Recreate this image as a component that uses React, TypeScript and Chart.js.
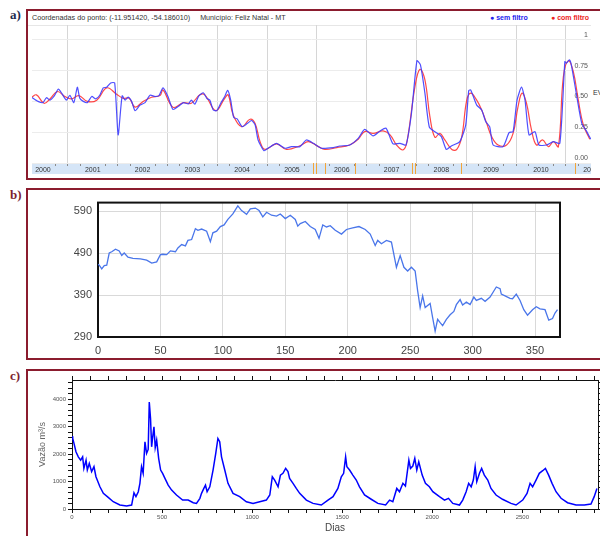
import React, { useEffect, useRef } from 'react';
import { Chart, registerables } from 'chart.js';

Chart.register(...registerables);

const FONT = '"Liberation Sans", Arial, Helvetica, sans-serif';

// ---------- Panel a : EVI time series ----------
const semFiltroYears = [
  2000.27, 2000.40, 2000.50, 2000.57, 2000.64, 2000.72, 2000.81, 2000.87, 2000.97, 2001.04,
  2001.12, 2001.19, 2001.24, 2001.31, 2001.39, 2001.48, 2001.56, 2001.64, 2001.71, 2001.78,
  2001.86, 2001.94, 2002.01, 2002.09, 2002.15, 2002.21, 2002.28, 2002.35, 2002.45, 2002.55,
  2002.65, 2002.75, 2002.83, 2002.91, 2003.01, 2003.11, 2003.22, 2003.32, 2003.42, 2003.48,
  2003.55, 2003.63, 2003.72, 2003.79, 2003.85, 2003.92, 2003.99, 2004.07, 2004.15, 2004.21,
  2004.27, 2004.33, 2004.40, 2004.50, 2004.60, 2004.69, 2004.76, 2004.82, 2004.94, 2005.02,
  2005.19, 2005.36, 2005.49, 2005.66, 2005.79, 2005.93, 2006.09, 2006.33, 2006.46, 2006.66,
  2006.83, 2006.96, 2007.13, 2007.27, 2007.39, 2007.53, 2007.67, 2007.79, 2007.90, 2008.01,
  2008.08, 2008.17, 2008.26, 2008.40, 2008.50, 2008.60, 2008.70, 2008.87, 2008.99, 2009.05,
  2009.09, 2009.21, 2009.31, 2009.39, 2009.47, 2009.54, 2009.74, 2009.86, 2009.94, 2010.02,
  2010.11, 2010.18, 2010.26, 2010.38, 2010.46, 2010.61, 2010.75, 2010.88, 2010.98, 2011.01,
  2011.07, 2011.11, 2011.22, 2011.32, 2011.42, 2011.50,
];
const semFiltroEVI = [
  0.534, 0.50, 0.49, 0.53, 0.51, 0.54, 0.60, 0.57, 0.51, 0.55,
  0.49, 0.615, 0.525, 0.50, 0.49, 0.54, 0.52, 0.55, 0.61, 0.615,
  0.65, 0.65, 0.228, 0.545, 0.51, 0.535, 0.50, 0.425, 0.47, 0.49,
  0.55, 0.54, 0.547, 0.61, 0.54, 0.435, 0.46, 0.49, 0.48, 0.51,
  0.477, 0.545, 0.57, 0.525, 0.51, 0.43, 0.425, 0.485, 0.54, 0.59,
  0.51, 0.37, 0.358, 0.295, 0.32, 0.345, 0.31, 0.187, 0.10, 0.12,
  0.16, 0.12, 0.133, 0.133, 0.187, 0.16, 0.12, 0.125, 0.138, 0.146,
  0.20, 0.273, 0.22, 0.26, 0.282, 0.155, 0.16, 0.146, 0.404, 0.83,
  0.797, 0.567, 0.29, 0.246, 0.214, 0.11, 0.138, 0.173, 0.31, 0.588,
  0.593, 0.47, 0.43, 0.336, 0.295, 0.146, 0.133, 0.246, 0.255, 0.51,
  0.615, 0.51, 0.228, 0.255, 0.146, 0.146, 0.173, 0.16, 0.823, 0.81,
  0.837, 0.797, 0.54, 0.322, 0.255, 0.193,
];
const comFiltroYears = [
  2000.27, 2000.37, 2000.52, 2000.64, 2000.79, 2000.94, 2001.07, 2001.22, 2001.39, 2001.58,
  2001.78, 2001.98, 2002.11, 2002.23, 2002.35, 2002.51, 2002.68, 2002.85, 2002.91, 2003.11,
  2003.32, 2003.48, 2003.65, 2003.75, 2003.97, 2004.15, 2004.22, 2004.32, 2004.49, 2004.66,
  2004.76, 2004.86, 2004.96, 2005.19, 2005.39, 2005.66, 2005.83, 2006.03, 2006.16, 2006.40,
  2006.66, 2006.83, 2006.96, 2007.13, 2007.33, 2007.47, 2007.60, 2007.73, 2007.81, 2007.97,
  2008.07, 2008.17, 2008.27, 2008.37, 2008.47, 2008.57, 2008.71, 2008.81, 2008.91, 2009.01,
  2009.09, 2009.21, 2009.31, 2009.41, 2009.51, 2009.64, 2009.81, 2009.94, 2010.04, 2010.12,
  2010.21, 2010.31, 2010.41, 2010.53, 2010.65, 2010.75, 2010.85, 2010.95, 2011.05, 2011.15,
  2011.25, 2011.35, 2011.48,
];
const comFiltroEVI = [
  0.534, 0.553, 0.485, 0.52, 0.58, 0.54, 0.52, 0.547, 0.50, 0.51,
  0.61, 0.558, 0.525, 0.525, 0.453, 0.50, 0.534, 0.547, 0.593, 0.453,
  0.49, 0.485, 0.553, 0.553, 0.425, 0.525, 0.553, 0.39, 0.295, 0.355,
  0.32, 0.173, 0.11, 0.155, 0.11, 0.14, 0.173, 0.133, 0.11, 0.125,
  0.146, 0.193, 0.255, 0.24, 0.26, 0.228, 0.146, 0.106, 0.173, 0.62,
  0.76, 0.675, 0.376, 0.209, 0.24, 0.187, 0.11, 0.11, 0.214, 0.51,
  0.567, 0.51, 0.43, 0.322, 0.214, 0.146, 0.146, 0.24, 0.458, 0.567,
  0.485, 0.268, 0.146, 0.187, 0.133, 0.173, 0.133, 0.70, 0.83, 0.742,
  0.51, 0.31, 0.193,
];
const yearLabels = ['2000', '2001', '2002', '2003', '2004', '2005', '2006', '2007', '2008', '2009', '2010', '2011'];
const eviTicks = [0, 0.25, 0.5, 0.75, 1];
const markerYears = [2005.92, 2005.98, 2006.16, 2006.76, 2007.91, 2007.97, 2008.89, 2011.18];

// ---------- Panel b ----------
const bDays = [
  0, 1, 3, 5, 7, 9, 11, 14, 17, 19, 21, 24, 28, 34, 39, 43, 47, 50, 52, 55,
  58, 62, 64, 67, 70, 72, 75, 78, 80, 83, 87, 90, 92, 95, 98, 101, 104, 108, 112, 115,
  119, 122, 126, 129, 132, 135, 139, 143, 146, 150, 154, 158, 160, 162, 166, 170, 174, 177, 180, 183,
  186, 190, 195, 199, 204, 209, 214, 218, 222, 224, 227, 231, 235, 239, 242, 245, 248, 251, 254, 256,
  258, 260, 262, 266, 268, 270, 272, 274, 276, 279, 282, 285, 287, 290, 292, 295, 298, 301, 303, 307,
  310, 314, 319, 322, 323, 326, 330, 332, 335, 338, 341, 344, 348, 351, 354, 358, 361, 364, 366, 368,
];
const bValues = [
  463, 461, 452, 460, 461, 490, 493, 499, 495, 484, 490, 480, 477, 476, 473, 466, 469, 486, 487, 486,
  495, 493, 502, 510, 507, 520, 522, 548, 544, 547, 542, 517, 538, 542, 553, 557, 570, 583, 602, 591,
  582, 595, 597, 591, 576, 587, 580, 578, 583, 572, 580, 570, 554, 560, 565, 553, 546, 525, 557, 552,
  555, 544, 535, 546, 550, 553, 546, 535, 508, 520, 512, 520, 516, 456, 484, 456, 447, 456, 447, 400,
  360, 388, 360, 370, 336, 304, 332, 324, 317, 332, 343, 351, 367, 379, 366, 373, 367, 385, 377, 382,
  375, 385, 409, 405, 392, 388, 382, 381, 392, 377, 355, 342, 355, 362, 357, 355, 330, 334, 347, 355,
];
const bXTicks = [0, 50, 100, 150, 200, 250, 300, 350];
const bYTicks = [290, 390, 490, 590];

// ---------- Panel c ----------
const cDays = [
  0, 4, 11, 22, 35, 48, 59, 66, 78, 85, 96, 109, 122, 133, 155, 174, 201, 229, 266, 303,
  331, 344, 355, 368, 377, 386, 395, 405, 414, 423, 429, 436, 442, 447, 455, 462, 470, 481, 492, 503,
  516, 534, 553, 580, 614, 645, 673, 691, 710, 719, 732, 741, 750, 765, 783, 798, 810, 820, 830, 848,
  866, 894, 931, 968, 1005, 1042, 1079, 1098, 1112, 1125, 1144, 1157, 1171, 1186, 1199, 1208, 1227, 1245, 1264, 1301,
  1338, 1384, 1421, 1449, 1476, 1495, 1508, 1519, 1526, 1541, 1559, 1578, 1596, 1624, 1661, 1698, 1741, 1763, 1781, 1803,
  1818, 1837, 1851, 1870, 1879, 1892, 1903, 1914, 1925, 1944, 1962, 1984, 2003, 2040, 2068, 2090, 2114, 2151, 2169, 2188,
  2202, 2216, 2228, 2238, 2247, 2262, 2274, 2289, 2308, 2326, 2354, 2390, 2437, 2465, 2502, 2526, 2543, 2557, 2576, 2594,
  2613, 2628, 2646, 2665, 2687, 2715, 2751, 2798, 2844, 2881, 2899, 2914,
];
const cFlow = [
  2650, 2570, 2390, 2085, 1900, 1780, 1900, 1480, 1780, 1420, 1660, 1360, 1540, 1175, 810, 570, 425, 265, 145, 110,
  145, 590, 450, 630, 935, 1540, 1300, 2450, 2025, 2170, 3900, 3300, 2265, 2570, 2995, 2240, 2510, 1845, 1420, 1300,
  1115, 870, 690, 510, 325, 325, 230, 205, 390, 570, 750, 870, 630, 810, 1420, 2025, 2570, 2450, 1900, 1420,
  935, 570, 450, 265, 205, 265, 325, 510, 1175, 1055, 810, 1235, 1300, 1480, 1360, 1115, 935, 750, 570, 325,
  205, 145, 325, 450, 750, 1175, 1300, 1900, 1540, 1420, 1235, 1055, 810, 510, 355, 205, 145, 325, 265, 750,
  630, 935, 835, 1780, 1480, 1565, 1845, 1420, 1720, 1235, 935, 810, 630, 450, 325, 390, 205, 145, 325, 630,
  935, 810, 1055, 1540, 995, 1300, 1480, 1235, 1055, 750, 510, 355, 205, 145, 325, 570, 935, 810, 1055, 1300,
  1395, 1480, 1235, 935, 630, 390, 230, 145, 145, 180, 450, 750,
];

const BORDER = '#8b1c2e';
const A_MIN = 2000.28;
const A_MAX = 2011.505;

const quarterTicks: number[] = [];
yearLabels.forEach((l) => {
  const y = Number(l);
  [0, 0.25, 0.5, 0.75].forEach((q) => {
    const v = y + q;
    if (v >= A_MIN && v <= A_MAX) quarterTicks.push(v);
  });
});

const markerPlugin = {
  id: 'markers',
  afterDraw(chart: any) {
    const xs = chart.scales.x;
    const ctx = chart.ctx;
    ctx.save();
    ctx.strokeStyle = '#f2a53a';
    ctx.lineWidth = 1;
    markerYears.forEach((v) => {
      const px = Math.round(xs.getPixelForValue(v)) + 0.5;
      ctx.beginPath();
      ctx.moveTo(px, xs.top);
      ctx.lineTo(px, xs.top + 11);
      ctx.stroke();
    });
    ctx.restore();
  },
};

const framePlugin = {
  id: 'frame',
  beforeDatasetsDraw(chart: any) {
    const { ctx, chartArea } = chart;
    ctx.save();
    ctx.strokeStyle = '#111';
    ctx.lineWidth = 2;
    ctx.strokeRect(chartArea.left, chartArea.top, chartArea.right - chartArea.left, chartArea.bottom - chartArea.top);
    ctx.restore();
  },
};

function useChart(ref: React.RefObject<HTMLCanvasElement | null>, make: (c: HTMLCanvasElement) => Chart) {
  useEffect(() => {
    if (!ref.current) return;
    const ch = make(ref.current);
    return () => ch.destroy();
  }, []);
}

export default function App() {
  const aRef = useRef<HTMLCanvasElement>(null);
  const bRef = useRef<HTMLCanvasElement>(null);
  const cRef = useRef<HTMLCanvasElement>(null);

  useChart(aRef, (cv) =>
    new Chart(cv, {
      type: 'line',
      data: {
        datasets: [
          {
            label: 'sem filtro',
            data: semFiltroYears.map((x, i) => ({ x, y: semFiltroEVI[i] })),
            borderColor: 'rgba(60,60,255,0.9)',
            borderWidth: 1.2,
            pointRadius: 0,
            tension: 0.2,
          },
          {
            label: 'com filtro',
            data: comFiltroYears.map((x, i) => ({ x, y: comFiltroEVI[i] })),
            borderColor: 'rgba(255,40,40,0.85)',
            borderWidth: 1.2,
            pointRadius: 0,
            tension: 0.4,
          },
        ],
      },
      options: {
        animation: false,
        responsive: false,
        layout: { padding: { left: 4, top: 14, right: 0, bottom: 3 } },
        plugins: { legend: { display: false }, tooltip: { enabled: false } },
        scales: {
          x: {
            type: 'linear',
            min: A_MIN,
            max: A_MAX,
            backgroundColor: '#d5e5f7',
            afterBuildTicks: (s: any) => {
              s.ticks = quarterTicks.map((v) => ({ value: v }));
            },
            afterFit: (s: any) => {
              s.height = 11;
              s.paddingLeft = 0;
              s.paddingRight = 0;
            },
            grid: {
              color: (c: any) => (c.tick && Number.isInteger(c.tick.value) ? '#d6d6d6' : 'rgba(0,0,0,0)'),
              tickColor: (c: any) => (c.tick && c.tick.value % 1 === 0.5 ? 'rgba(0,0,0,0)' : '#8a8a8a'),
              tickLength: 3,
              drawTicks: true,
            },
            border: { display: false },
            ticks: {
              autoSkip: false,
              maxRotation: 0,
              minRotation: 0,
              padding: 0,
              font: { size: 7, family: FONT },
              color: '#333',
              callback: (v: any) => (Number(v) % 1 === 0.5 ? String(Math.floor(Number(v))) : ''),
            },
          },
          y: {
            position: 'right',
            min: 0,
            max: 1.12,
            afterBuildTicks: (s: any) => {
              s.ticks = eviTicks.map((v) => ({ value: v }));
            },
            afterFit: (s: any) => {
              s.width = 0;
              s.paddingTop = 0;
              s.paddingBottom = 0;
            },
            grid: { color: '#ececec', drawTicks: false },
            border: { display: false },
            ticks: {
              mirror: true,
              padding: -3,
              labelOffset: -5,
              font: { size: 7, family: FONT },
              color: '#555',
              callback: (v: any) => (Number(v) === 1 ? '1' : Number(v).toFixed(2)),
            },
          },
        },
      },
      plugins: [markerPlugin],
    } as any)
  );

  useChart(bRef, (cv) =>
    new Chart(cv, {
      type: 'line',
      data: {
        datasets: [
          {
            data: bDays.map((x, i) => ({ x, y: bValues[i] })),
            borderColor: '#4a76ea',
            borderWidth: 1.3,
            pointRadius: 0,
            tension: 0,
          },
        ],
      },
      options: {
        animation: false,
        responsive: false,
        layout: { padding: { left: 0, top: 5, right: 40, bottom: 0 } },
        plugins: { legend: { display: false }, tooltip: { enabled: false } },
        scales: {
          x: {
            type: 'linear',
            min: 0,
            max: 370,
            afterBuildTicks: (s: any) => {
              s.ticks = bXTicks.map((v) => ({ value: v }));
            },
            afterFit: (s: any) => {
              s.height = 20;
            },
            grid: { color: '#d9d9d9', drawTicks: false },
            border: { display: false },
            ticks: { maxRotation: 0, padding: 7, font: { size: 11, family: FONT }, color: '#444' },
          },
          y: {
            min: 290,
            max: 610,
            afterBuildTicks: (s: any) => {
              s.ticks = bYTicks.map((v) => ({ value: v }));
            },
            afterFit: (s: any) => {
              s.width = 70;
            },
            grid: { color: '#d9d9d9', drawTicks: false },
            border: { display: false },
            ticks: { padding: 6, font: { size: 11, family: FONT }, color: '#444' },
          },
        },
      },
      plugins: [framePlugin],
    } as any)
  );

  const cTickCommon = {
    grid: { drawOnChartArea: false, drawTicks: true, tickLength: 4, tickColor: '#111' },
    border: { color: '#111', width: 1 },
  };

  useChart(cRef, (cv) =>
    new Chart(cv, {
      type: 'line',
      data: {
        datasets: [
          {
            data: cDays.map((x, i) => ({ x, y: cFlow[i] })),
            borderColor: '#0000ff',
            borderWidth: 1.5,
            pointRadius: 0,
            tension: 0,
          },
        ],
      },
      options: {
        animation: false,
        responsive: false,
        layout: { padding: 0 },
        plugins: { legend: { display: false }, tooltip: { enabled: false } },
        scales: {
          x: {
            type: 'linear',
            position: 'bottom',
            min: 0,
            max: 2920,
            ...cTickCommon,
            afterFit: (s: any) => {
              s.height = 27;
            },
            ticks: {
              stepSize: 100,
              includeBounds: false,
              autoSkip: false,
              maxRotation: 0,
              padding: 1,
              font: { size: 6, family: FONT },
              color: '#555',
              callback: (v: any) => (Number(v) % 500 === 0 ? String(v) : ''),
            },
            title: { display: true, text: 'Dias', font: { size: 10, family: FONT }, color: '#444', padding: { top: 0, bottom: 2 } },
          },
          x2: {
            type: 'linear',
            position: 'top',
            min: 0,
            max: 2920,
            ...cTickCommon,
            afterFit: (s: any) => {
              s.height = 9;
            },
            ticks: { stepSize: 100, includeBounds: false, autoSkip: false, display: false },
          },
          y: {
            type: 'linear',
            position: 'left',
            min: 0,
            max: 4700,
            ...cTickCommon,
            afterFit: (s: any) => {
              s.width = 44;
            },
            ticks: {
              stepSize: 200,
              includeBounds: false,
              autoSkip: false,
              padding: 2,
              font: { size: 6, family: FONT },
              color: '#555',
              callback: (v: any) => (Number(v) % 1000 === 0 ? String(v) : ''),
            },
            title: { display: true, text: 'Vazão m³/s', font: { size: 9, family: FONT }, color: '#666', padding: { top: 9, bottom: 0 } },
          },
          y2: {
            type: 'linear',
            position: 'right',
            min: 0,
            max: 4700,
            ...cTickCommon,
            afterFit: (s: any) => {
              s.width = 2;
            },
            ticks: { stepSize: 200, includeBounds: false, autoSkip: false, display: false },
          },
        },
      },
    } as any)
  );

  const labelStyle = (top: number, color: string): React.CSSProperties => ({
    position: 'absolute',
    left: 10,
    top,
    font: 'bold 13px "Liberation Serif", "DejaVu Serif", serif',
    color,
    lineHeight: '13px',
  });

  const panel = (top: number, height: number): React.CSSProperties => ({
    position: 'absolute',
    left: 26,
    top,
    width: 640,
    height,
    boxSizing: 'border-box',
    border: `2px solid ${BORDER}`,
  });

  return (
    <div
      style={{
        position: 'absolute',
        left: 0,
        top: 0,
        width: 600,
        height: 536,
        overflow: 'hidden',
        background: '#fff',
        fontFamily: FONT,
      }}
    >
      <div style={labelStyle(8, '#1f2b4d')}>a)</div>
      <div style={labelStyle(188, '#7d1f30')}>b)</div>
      <div style={labelStyle(369, '#7d1f30')}>c)</div>

      <div style={panel(9, 171)} />
      <div style={panel(188, 172)} />
      <div style={panel(369, 200)} />

      {/* panel a header */}
      <div style={{ position: 'absolute', left: 32, top: 13, fontSize: 7.2, color: '#333', whiteSpace: 'nowrap', lineHeight: '9px' }}>
        <span>Coordenadas do ponto: (-11.951420, -54.186010)</span>
        <span style={{ marginLeft: 10 }}>Município: Feliz Natal - MT</span>
      </div>
      <div style={{ position: 'absolute', left: 490, top: 13, fontSize: 7, fontWeight: 'bold', whiteSpace: 'nowrap', lineHeight: '9px' }}>
        <span style={{ color: '#2222ee' }}>● sem filtro</span>
      </div>
      <div style={{ position: 'absolute', left: 551, top: 13, fontSize: 7, fontWeight: 'bold', whiteSpace: 'nowrap', lineHeight: '9px' }}>
        <span style={{ color: '#ee2222' }}>● com filtro</span>
      </div>
      <div style={{ position: 'absolute', left: 28, top: 25, width: 563, height: 1, background: '#e6e6e6' }} />
      <div style={{ position: 'absolute', left: 593, top: 89, fontSize: 7, color: '#333', lineHeight: '8px' }}>EVI</div>

      <canvas ref={aRef} width={563} height={166} style={{ position: 'absolute', left: 28, top: 11, width: 563, height: 166 }} />
      <canvas ref={bRef} width={572} height={167} style={{ position: 'absolute', left: 28, top: 190, width: 572, height: 167 }} />
      <canvas ref={cRef} width={572} height={165} style={{ position: 'absolute', left: 28, top: 371, width: 572, height: 165 }} />
    </div>
  );
}
